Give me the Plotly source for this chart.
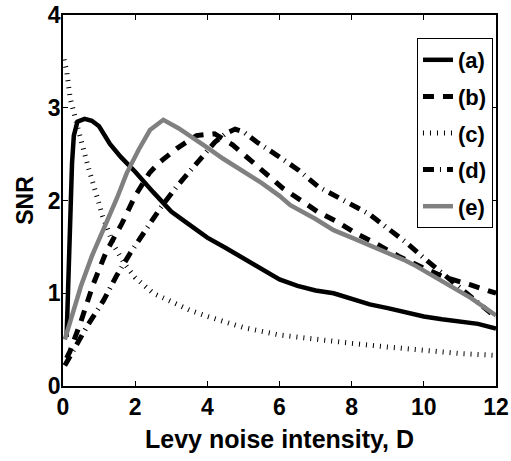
import plotly.graph_objects as go

# ---- data ----
labels = ["(a)", "(b)", "(c)", "(d)", "(e)"]

a_D = [0.1, 0.15, 0.2, 0.25, 0.3, 0.4, 0.6, 0.8, 1.0, 1.3, 1.6, 2.0, 2.5, 3.0, 3.5, 4.0,
       4.5, 5.0, 5.5, 6.0, 6.5, 7.0, 7.5, 8.0, 8.5, 9.0, 9.5, 10.0, 10.5, 11.0, 11.5, 12.0]
a_S = [0.53, 1.3, 2.0, 2.4, 2.7, 2.85, 2.88, 2.86, 2.80, 2.61, 2.47, 2.31, 2.09, 1.88, 1.74, 1.60,
       1.49, 1.38, 1.27, 1.15, 1.08, 1.03, 1.00, 0.94, 0.88, 0.84, 0.79, 0.75, 0.72, 0.70, 0.67, 0.62]

b_D = [0.1, 0.19, 0.5, 0.84, 1.2, 1.63, 2.0, 2.4, 2.7, 3.15, 3.7, 4.2, 4.7, 5.2, 5.6, 6.1,
       6.6, 7.05, 7.6, 8.1, 8.6, 9.3, 10.0, 10.6, 11.3, 12.0]
b_S = [0.3, 0.37, 0.7, 1.1, 1.45, 1.75, 2.05, 2.3, 2.42, 2.56, 2.70, 2.72, 2.6, 2.43, 2.3, 2.13,
       2.0, 1.88, 1.77, 1.65, 1.55, 1.4, 1.27, 1.17, 1.09, 1.0]

c_D = [0.03, 0.1, 0.2, 0.3, 0.5, 0.7, 0.9, 1.1, 1.4, 1.7, 2.0, 2.5, 3.0, 3.5, 4.0, 5.0,
       6.0, 7.0, 8.0, 9.0, 10.0, 11.0, 12.0]
c_S = [3.52, 3.4, 3.1, 2.93, 2.65, 2.36, 2.08, 1.83, 1.52, 1.32, 1.17, 1.0, 0.91, 0.82, 0.75, 0.63,
       0.55, 0.50, 0.46, 0.42, 0.38, 0.35, 0.33]

d_D = [0.05, 0.3, 0.66, 1.12, 1.5, 1.86, 2.27, 2.7, 3.15, 3.7, 4.21, 4.5, 4.77, 5.0, 5.37, 5.92,
       6.52, 7.07, 7.58, 8.0, 8.5, 9.0, 9.5, 10.0, 10.5, 11.0, 11.5, 12.0]
d_S = [0.22, 0.4, 0.64, 0.92, 1.2, 1.43, 1.68, 1.92, 2.15, 2.4, 2.63, 2.72, 2.77, 2.74, 2.63, 2.49,
       2.33, 2.15, 2.04, 1.95, 1.85, 1.70, 1.55, 1.38, 1.22, 1.07, 0.9, 0.74]

e_D = [0.05, 0.3, 0.5, 0.8, 1.16, 1.5, 1.76, 2.1, 2.41, 2.78, 3.2, 3.6, 4.0, 4.44, 5.0, 5.5,
       6.0, 6.3, 7.0, 7.5, 8.0, 8.5, 9.0, 9.5, 9.8, 10.2, 10.7, 11.3, 12.0]
e_S = [0.5, 0.82, 1.08, 1.4, 1.72, 2.03, 2.29, 2.55, 2.76, 2.87, 2.78, 2.68, 2.57, 2.45, 2.31, 2.19,
       2.05, 1.95, 1.8, 1.68, 1.6, 1.52, 1.44, 1.35, 1.29, 1.2, 1.08, 0.95, 0.76]

x_ticks = [0, 2, 4, 6, 8, 10, 12]
y_ticks = [0, 1, 2, 3, 4]

series = [
    (a_D, a_S, dict(color="black", width=4.5, dash="solid")),
    (b_D, b_S, dict(color="black", width=5, dash="11px,9px")),
    (c_D, c_S, dict(color="black", width=5, dash="1px,6px")),
    (d_D, d_S, dict(color="black", width=5, dash="11px,6px,1px,6px")),
    (e_D, e_S, dict(color="rgb(128,128,128)", width=4.5, dash="solid")),
]

FONT = "Liberation Sans"

fig = go.Figure()
for i, (xs, ys, ln) in enumerate(series):
    fig.add_trace(go.Scatter(x=xs, y=ys, mode="lines", name=labels[i], line=ln,
                             legendgroup=labels[i]))

fig.update_layout(
    width=511, height=461,
    margin=dict(l=63, r=15, t=15, b=75, autoexpand=False),
    paper_bgcolor="white", plot_bgcolor="white",
    font=dict(family=FONT, size=22, color="black", weight="bold"),
    showlegend=True,
    legend=dict(
        x=0.993, y=0.938, xanchor="right", yanchor="top",
        bgcolor="white", bordercolor="black", borderwidth=1,
        font=dict(family=FONT, size=22, color="black", weight="bold"),
        tracegroupgap=5, itemwidth=30,
    ),
)
fig.update_xaxes(
    range=[0, 12], tickvals=x_ticks, ticktext=[str(v) for v in x_ticks],
    ticks="inside", ticklen=5, tickcolor="black", showline=True, linecolor="black",
    linewidth=1.5, mirror="ticks", showgrid=False, zeroline=False, automargin=False,
    ticklabeloverflow="allow",
    tickfont=dict(family=FONT, size=23, weight="bold"),
    title=dict(text="Levy noise intensity, D", standoff=11,
               font=dict(family=FONT, size=25, weight="bold")),
)
fig.update_yaxes(
    range=[0, 4], tickvals=y_ticks, ticktext=[str(v) for v in y_ticks],
    ticks="inside", ticklen=5, tickcolor="black", showline=True, linecolor="black",
    linewidth=1.5, mirror="ticks", showgrid=False, zeroline=False, automargin=False,
    ticklabelstandoff=-4, ticklabeloverflow="allow",
    tickfont=dict(family=FONT, size=23, weight="bold"),
    title=dict(text="SNR", standoff=8,
               font=dict(family=FONT, size=23, weight="bold")),
)

# remove the default page margin so the figure sits at the window's top-left corner
fig.write_html("out.html", config={"displayModeBar": False},
               post_script="document.body.style.margin='0';")
